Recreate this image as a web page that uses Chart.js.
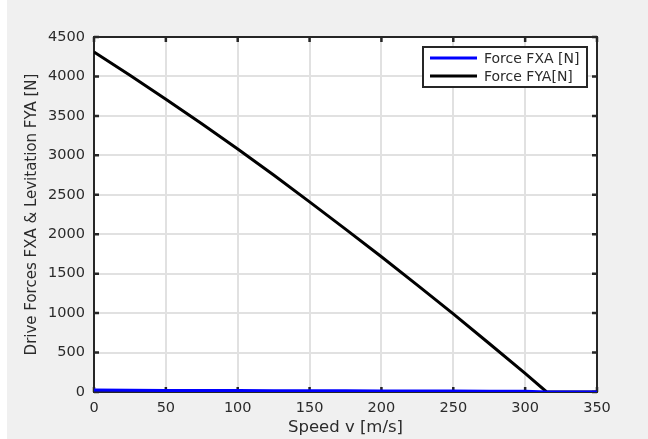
<!DOCTYPE html>
<html>
<head>
<meta charset="utf-8">
<script src="https://cdn.jsdelivr.net/npm/chart.js@4/dist/chart.umd.min.js"></script>
<style>
  html, body { margin: 0; padding: 0; background: #ffffff; }
  #wrap { position: absolute; left: 0; top: 0; width: 648px; height: 439px; }
  #bg { position: absolute; left: 7px; top: 0; width: 641px; height: 439px; background: #f0f0f0; }
  canvas { position: absolute; left: 0; top: 0; }
</style>
</head>
<body>
<div id="wrap">
  <div id="bg"></div>
  <canvas id="c" width="648" height="439"></canvas>
</div>
<script>
// Speed samples [m/s]
const speed = [0, 25, 50, 75, 100, 125, 150, 175, 200, 225, 250, 275, 300, 315, 350];
// Drive force FXA [N]
const forceFXA = [24, 22, 20, 19, 18, 17, 16, 15, 14, 13, 12, 11, 10, 0, 0];
// Levitation force FYA [N]
const forceFYA = [4310, 4015, 3710, 3400, 3080, 2750, 2410, 2065, 1715, 1355, 990, 615, 235, 0, 0];

const xTicks = [0, 50, 100, 150, 200, 250, 300, 350];
const yTicks = [0, 500, 1000, 1500, 2000, 2500, 3000, 3500, 4000, 4500];

const seriesLabels = ['Force FXA [N]', 'Force FYA[N]'];
const xTitle = 'Speed v [m/s]';
const yTitle = 'Drive Forces FXA & Levitation FYA [N]';

const FONT = 'DejaVu Sans';
const TEXT = '#2b2b2b';
const AXIS = '#262626';

function points(xs, ys) {
  return xs.map((x, i) => ({ x: x, y: ys[i] }));
}

// White plot area, boxed axes with inward tick marks, and an inset legend
const framePlugin = {
  id: 'frame',
  beforeDraw(chart) {
    const { ctx, chartArea: a } = chart;
    ctx.save();
    ctx.fillStyle = '#ffffff';
    ctx.fillRect(a.left, a.top, a.right - a.left, a.bottom - a.top);
    ctx.restore();
  },
  beforeDatasetsDraw(chart) {
    const { ctx, chartArea: a, scales } = chart;
    const tl = 5;
    ctx.save();
    ctx.strokeStyle = AXIS;
    ctx.lineWidth = 2.5;
    ctx.beginPath();
    scales.x.ticks.forEach(t => {
      const px = scales.x.getPixelForValue(t.value);
      ctx.moveTo(px, a.bottom); ctx.lineTo(px, a.bottom - tl);
      ctx.moveTo(px, a.top); ctx.lineTo(px, a.top + tl);
    });
    scales.y.ticks.forEach(t => {
      const py = scales.y.getPixelForValue(t.value);
      ctx.moveTo(a.left, py); ctx.lineTo(a.left + tl, py);
      ctx.moveTo(a.right, py); ctx.lineTo(a.right - tl, py);
    });
    ctx.stroke();
    ctx.lineWidth = 2;
    ctx.strokeRect(a.left, a.top, a.right - a.left, a.bottom - a.top);
    ctx.restore();
  },
  afterDatasetsDraw(chart) {
    const { ctx, chartArea: a } = chart;
    const w = 164, h = 40;
    const x0 = a.right - 10 - w, y0 = a.top + 10;
    ctx.save();
    ctx.fillStyle = '#ffffff';
    ctx.fillRect(x0, y0, w, h);
    ctx.strokeStyle = AXIS;
    ctx.lineWidth = 2;
    ctx.strokeRect(x0, y0, w, h);
    ctx.font = '14px "' + FONT + '"';
    ctx.textBaseline = 'middle';
    ctx.textAlign = 'left';
    chart.data.datasets.forEach((ds, i) => {
      const yy = y0 + 11 + i * 18;
      ctx.strokeStyle = ds.borderColor;
      ctx.lineWidth = 3;
      ctx.beginPath();
      ctx.moveTo(x0 + 7, yy); ctx.lineTo(x0 + 54, yy);
      ctx.stroke();
      ctx.fillStyle = TEXT;
      ctx.fillText(ds.label, x0 + 61, yy + 1);
    });
    ctx.restore();
  }
};

new Chart(document.getElementById('c'), {
  type: 'line',
  data: {
    datasets: [
      {
        label: seriesLabels[0],
        data: points(speed, forceFXA),
        borderColor: '#0000ff',
        borderWidth: 3,
        pointRadius: 0,
        tension: 0,
        fill: false
      },
      {
        label: seriesLabels[1],
        data: points(speed, forceFYA),
        borderColor: '#000000',
        borderWidth: 3,
        pointRadius: 0,
        tension: 0,
        fill: false
      }
    ]
  },
  options: {
    responsive: false,
    animation: false,
    devicePixelRatio: 1,
    layout: { padding: { left: 0, right: 51, top: 37, bottom: 0 } },
    plugins: { legend: { display: false }, tooltip: { enabled: false } },
    scales: {
      x: {
        type: 'linear',
        min: 0,
        max: 350,
        afterBuildTicks(s) { s.ticks = xTicks.map(v => ({ value: v })); },
        afterFit(s) { s.height = 47; },
        grid: { color: '#e1e1e1', lineWidth: 2, drawTicks: false },
        border: { display: false },
        ticks: { font: { family: FONT, size: 14.5 }, color: TEXT, padding: 8, maxRotation: 0, autoSkip: false, callback: v => String(v) },
        title: { display: true, text: xTitle, font: { family: FONT, size: 16.5 }, color: TEXT, padding: { top: 0, bottom: 1 } }
      },
      y: {
        type: 'linear',
        min: 0,
        max: 4500,
        afterBuildTicks(s) { s.ticks = yTicks.map(v => ({ value: v })); },
        afterFit(s) { s.width = 94; },
        grid: { color: '#e1e1e1', lineWidth: 2, drawTicks: false },
        border: { display: false },
        ticks: { font: { family: FONT, size: 14.5 }, color: TEXT, padding: 9, autoSkip: false, callback: v => String(v) },
        title: { display: true, text: yTitle, font: { family: FONT, size: 15 }, color: TEXT, padding: { top: 23, bottom: 0 } }
      }
    }
  },
  plugins: [framePlugin]
});
</script>
</body>
</html>
